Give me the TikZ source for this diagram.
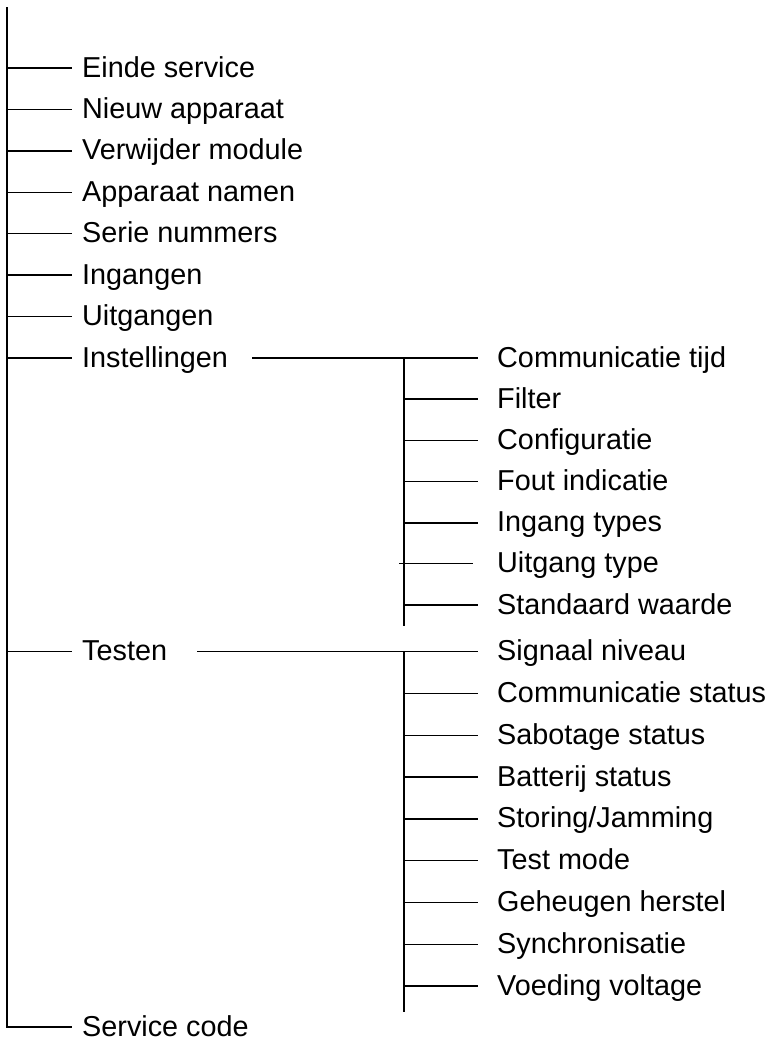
\documentclass[tikz,border=0pt]{standalone}
\usepackage{fontspec}
\setmainfont{Liberation Sans}
\begin{document}
\begin{tikzpicture}[x=1pt,y=-1pt,
  line/.style={line width=1.5pt},
  mainitem/.style={anchor=west,inner xsep=10pt,inner ysep=0pt,text height=18pt,text depth=0pt,font=\fontsize{28.8}{34}\selectfont},
  subitem/.style={anchor=west,inner xsep=19pt,inner ysep=0pt,text height=18pt,text depth=0pt,font=\fontsize{28.8}{34}\selectfont}]
\useasboundingbox (0,0) rectangle (772,1039);
% main list
\coordinate (top) at (7,7);
\coordinate (bot) at (7,1027);
\node[mainitem] (m1) at (72,68) {Einde service};
\node[mainitem] (m2) at (72,109.4) {Nieuw apparaat};
\node[mainitem] (m3) at (72,150.9) {Verwijder module};
\node[mainitem] (m4) at (72,192.3) {Apparaat namen};
\node[mainitem] (m5) at (72,233.7) {Serie nummers};
\node[mainitem] (m6) at (72,275.1) {Ingangen};
\node[mainitem] (m7) at (72,316.6) {Uitgangen};
\node[mainitem] (m8) at (72,358) {Instellingen};
\node[mainitem] (m9) at (72,651.7) {Testen};
\node[mainitem] (m10) at (72,1027) {Service code};
\draw[line] (top) -- (bot) -- (m10.west);
\foreach \i in {1,...,9} {
  \draw[line] (7,0 |- m\i.west) -- (m\i.west);
}
% Instellingen sub list
\coordinate (ia) at (252,358);
\coordinate (iv) at (404,358);
\coordinate (ivb) at (404,626);
\node[subitem] (a1) at (478,358) {Communicatie tijd};
\node[subitem] (a2) at (478,399.2) {Filter};
\node[subitem] (a3) at (478,440.4) {Configuratie};
\node[subitem] (a4) at (478,481.6) {Fout indicatie};
\node[subitem] (a5) at (478,522.8) {Ingang types};
\node[subitem,inner xsep=24pt] (a6) at (473,563.5) {Uitgang type};
\node[subitem] (a7) at (478,605.2) {Standaard waarde};
\draw[line] (ia) -- (a1.west);
\draw[line] (iv) -- (ivb);
\foreach \i in {2,3,4,5,7} {
  \draw[line] (404,0 |- a\i.west) -- (a\i.west);
}
\draw[line] (399,0 |- a6.west) -- (a6.west);
% Testen sub list
\coordinate (ta) at (197,651.7);
\coordinate (tv) at (404,651.7);
\coordinate (tvb) at (404,1012);
\node[subitem] (b1) at (478,651.7) {Signaal niveau};
\node[subitem] (b2) at (478,693.5) {Communicatie status};
\node[subitem] (b3) at (478,735.3) {Sabotage status};
\node[subitem] (b4) at (478,777.1) {Batterij status};
\node[subitem] (b5) at (478,818.9) {Storing/Jamming};
\node[subitem] (b6) at (478,860.7) {Test mode};
\node[subitem] (b7) at (478,902.5) {Geheugen herstel};
\node[subitem] (b8) at (478,944.3) {Synchronisatie};
\node[subitem] (b9) at (478,986.1) {Voeding voltage};
\draw[line] (ta) -- (b1.west);
\draw[line] (tv) -- (tvb);
\foreach \i in {2,...,9} {
  \draw[line] (404,0 |- b\i.west) -- (b\i.west);
}
\end{tikzpicture}
\end{document}
